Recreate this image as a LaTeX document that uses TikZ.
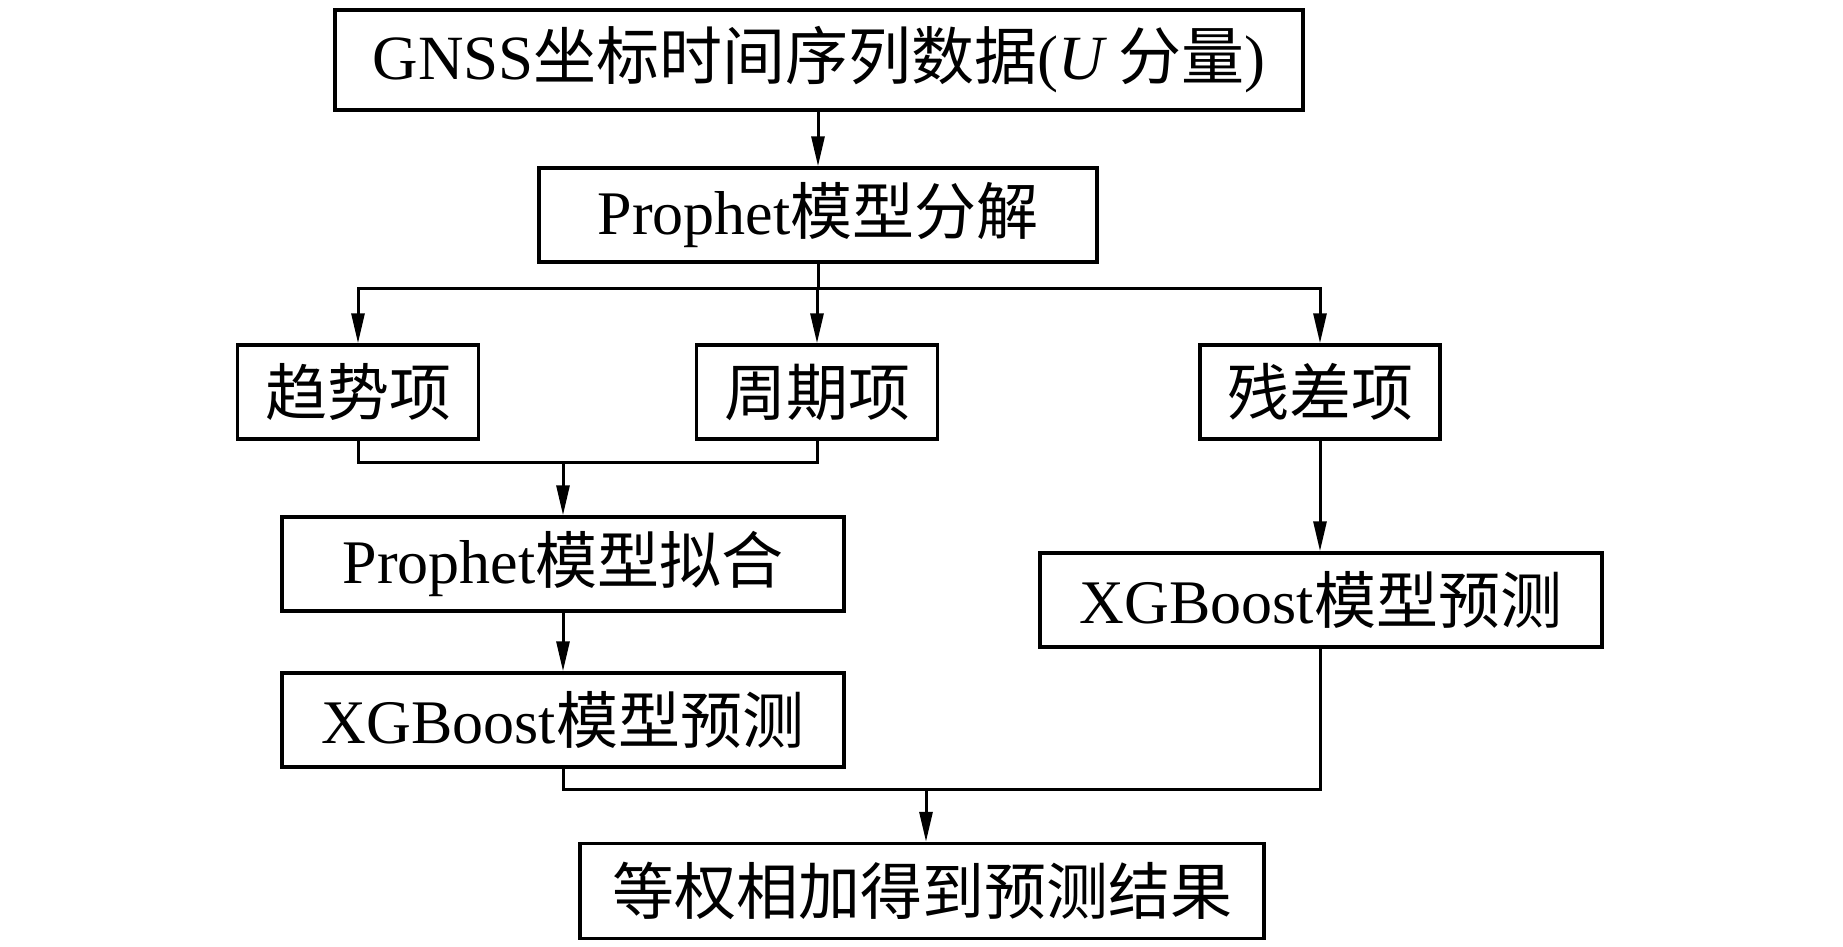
\documentclass[tikz,border=0pt]{standalone}
\usepackage{fontspec}
\setmainfont{Liberation Serif}
\newfontfamily\zh{Noto Sans CJK SC}
\usetikzlibrary{arrows.meta, positioning}
\tikzset{
  every picture/.style={x=1pt, y=-1pt, line width=3pt},
  box/.style={draw=black, line width=3.5pt, align=center, inner sep=0pt, minimum height=94pt, font=\fontsize{62}{70}\selectfont},
  arrow/.style={-{Triangle[length=30pt, width=13pt]}, draw=black, line width=3pt},
}
\begin{document}
\begin{tikzpicture}
  \useasboundingbox (0,0) rectangle (1843,946);
  % input and decomposition
  \node[box, minimum width=968pt, minimum height=100pt, font=\fontsize{63}{70}\selectfont] (gnss) at (819,60) {GNSS{\zh 坐标时间序列数据}(\textit{U}\,{\zh 分量})};
  \node[box, minimum width=558pt] (decomp) at (818,215) {Prophet{\zh 模型分解}};
  \draw[arrow] (decomp.north |- gnss.south) -- (decomp.north);
  % three components
  \node[box, minimum width=241pt] (trend) at (358,392) {\zh 趋势项};
  \node[box, minimum width=241pt] (period) at (817,392) {\zh 周期项};
  \node[box, minimum width=240pt] (resid) at (1320,392) {\zh 残差项};
  \coordinate (split) at (818,288);
  \draw (decomp.south) -- (split);
  \foreach \n in {trend, period, resid} \draw[arrow] (split) -| (\n.north);
  % trend + period branch
  \node[box, minimum width=562pt] (fit) at (563,564) {Prophet{\zh 模型拟合}};
  \node[box, minimum width=562pt] (xgbL) at (563,720) {XGBoost{\zh 模型预测}};
  \coordinate (join) at (563,462);
  \draw (trend.south) |- (join) -| (period.south);
  \draw[arrow] (join) -- (join |- fit.north);
  \draw[arrow] (fit) -- (xgbL);
  % residual branch
  \node[box, minimum width=562pt] (xgbR) at (1321,600) {XGBoost{\zh 模型预测}};
  \draw[arrow] (resid.south) -- (resid.south |- xgbR.north);
  % result
  \node[box, minimum width=684pt, minimum height=95pt] (final) at (922,891) {\zh 等权相加得到预测结果};
  \coordinate (merge) at (926,789);
  \draw (xgbL.south) |- (merge) -| (resid.south |- xgbR.south);
  \draw[arrow] (merge) -- (merge |- final.north);
\end{tikzpicture}
\end{document}
